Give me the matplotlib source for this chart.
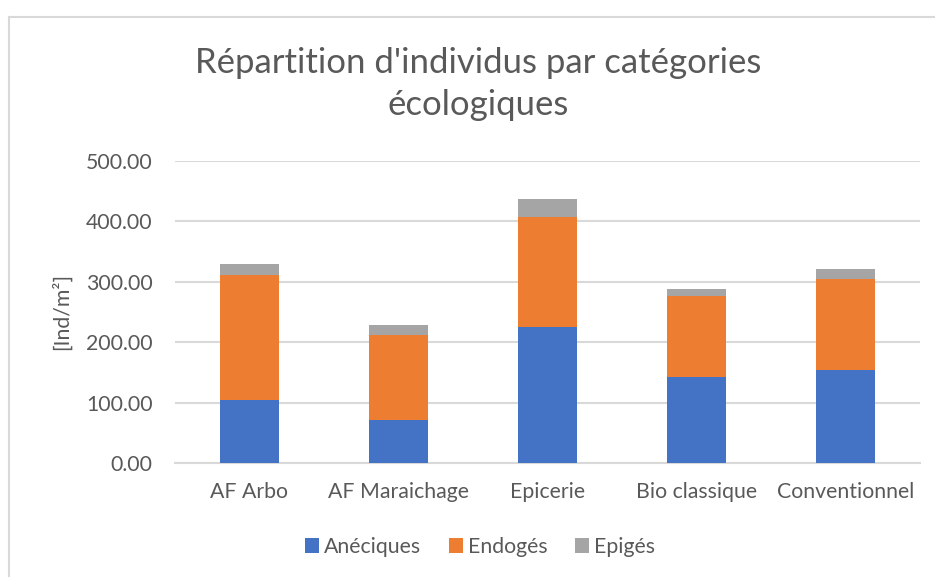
import matplotlib
matplotlib.use('Agg')
import matplotlib.pyplot as plt
from matplotlib.lines import Line2D
import numpy as np

categories = ['AF Arbo', 'AF Maraichage', 'Epicerie', 'Bio classique', 'Conventionnel']
aneciques = [104, 71, 225, 142, 154]
endoges = [207, 141, 183, 135, 151]
epiges = [19, 16, 29, 11, 17]
yticks = [0, 100, 200, 300, 400, 500]

plt.rcParams['font.family'] = ['Lato', 'DejaVu Sans']
txt = '#595959'
grid = '#D9D9D9'
fs = 15.3

W, H = 935, 577
fig = plt.figure(figsize=(W / 100, H / 100), dpi=100)
# plot area in pixels: x 175-920, y 161-463
ax = fig.add_axes([175 / W, 1 - 463 / H, (920 - 175) / W, (463 - 161) / H])

x = np.arange(len(categories))
bw = 0.4
bottom2 = np.array(aneciques) + np.array(endoges)
ax.bar(x, aneciques, bw, color='#4472C4', label='Anéciques', zorder=3)
ax.bar(x, endoges, bw, bottom=aneciques, color='#ED7D31', label='Endogés', zorder=3)
ax.bar(x, epiges, bw, bottom=bottom2, color='#A5A5A5', label='Epigés', zorder=3)

ax.set_xlim(-0.5, len(categories) - 0.5)
ax.set_ylim(0, 500)
ax.set_yticks(yticks)
ax.set_yticklabels(['%.2f' % v for v in yticks])
ax.set_xticks(x)
ax.set_xticklabels(categories)
ax.tick_params(axis='both', length=0, colors=txt, labelsize=fs)
ax.tick_params(axis='y', pad=16)
ax.tick_params(axis='x', pad=14)
ax.yaxis.grid(True, color=grid, linewidth=1.5, zorder=0)
for s in ['top', 'right', 'left']:
    ax.spines[s].set_visible(False)
ax.spines['bottom'].set_color(grid)
ax.spines['bottom'].set_linewidth(1.5)
ax.set_ylabel('[Ind/m²]', color=txt, fontsize=fs, labelpad=10)

fig.text(478 / W, 1 - 84 / H, "Répartition d'individus par catégories\nécologiques",
         ha='center', va='center', fontsize=25, color=txt, linespacing=1.4)

ax.legend(loc='center', bbox_to_anchor=(480 / W, 1 - 547 / H), bbox_transform=fig.transFigure,
          ncol=3, frameon=False, fontsize=fs, labelcolor=txt, handlelength=0.65,
          handleheight=0.65, handletextpad=0.25, columnspacing=1.3)

# chart frame (left and top edges only visible)
fig.add_artist(Line2D([8.5 / W, 8.5 / W], [0, 1 - 16.5 / H], transform=fig.transFigure,
                      color=grid, linewidth=1.5))
fig.add_artist(Line2D([8.5 / W, 1], [1 - 16.5 / H, 1 - 16.5 / H], transform=fig.transFigure,
                      color=grid, linewidth=1.5))

fig.savefig('out.png', dpi=100)
